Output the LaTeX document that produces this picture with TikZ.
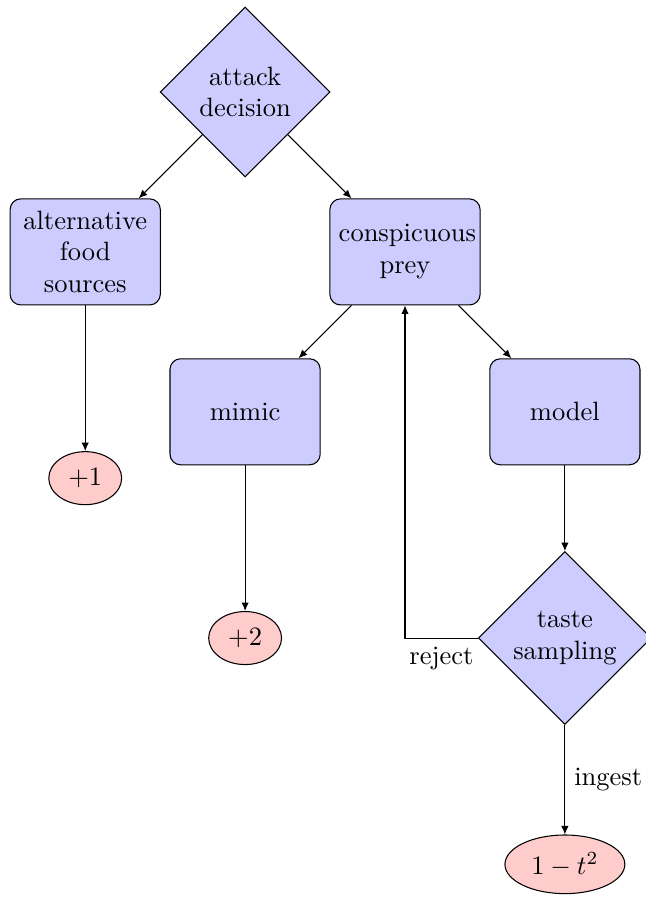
\documentclass[tikz,border=0pt]{standalone}
\usetikzlibrary{arrows.meta,positioning,shapes.geometric}

\begin{document}
\begin{tikzpicture}[
  decision/.style={
    diamond,
    draw,
    fill=blue!20,
    text width=4.5em,
    align=center,
    inner sep=0pt
  },
  block/.style={
    rectangle,
    draw,
    fill=blue!20,
    text width=5em,
    align=center,
    rounded corners,
    minimum height=4em
  },
  payoff/.style={
    ellipse,
    draw,
    fill=red!20,
    minimum height=2em
  },
  line/.style={
    draw,
    -{Latex[length=3.2pt, width=2.8pt]}
  }
  ]
  \useasboundingbox (-3.25, 1.22) rectangle (5.305, -10.70);

  % predator choices
  \node[decision] (attack) at (0,0) {attack decision};
  \node[block] (alt-food) at (-2.12, -2.12) {alternative food sources};
  \node[block] (prey) at (2.12, -2.12) {conspicuous prey};

  % prey types
  \node[block] (mimic) at (0, -4.24) {mimic};
  \node[block] (model) at (4.24, -4.24) {model};
  \node[decision] (taste) at (4.24, -7.24) {taste sampling};

  % payoffs
  \node[payoff] (pay-alt) at (-2.12, -5.12) {$+1$};
  \node[payoff] (pay-mimic) at (0, -7.24) {$+2$};
  \node[payoff] (pay-model) at (4.24, -10.24) {$1-t^2$};

  \path[line] (attack) -- (alt-food);
  \path[line] (attack) -- (prey);
  \path[line] (prey) -- (mimic);
  \path[line] (prey) -- (model);
  \path[line] (alt-food) -- (pay-alt);
  \path[line] (mimic) -- (pay-mimic);
  \path[line] (model) -- (taste);
  \path[line] (taste) -| node[near start, below] {reject} (prey);
  \path[line] (taste) -- node[right] {ingest} (pay-model);

\end{tikzpicture}
\end{document}
